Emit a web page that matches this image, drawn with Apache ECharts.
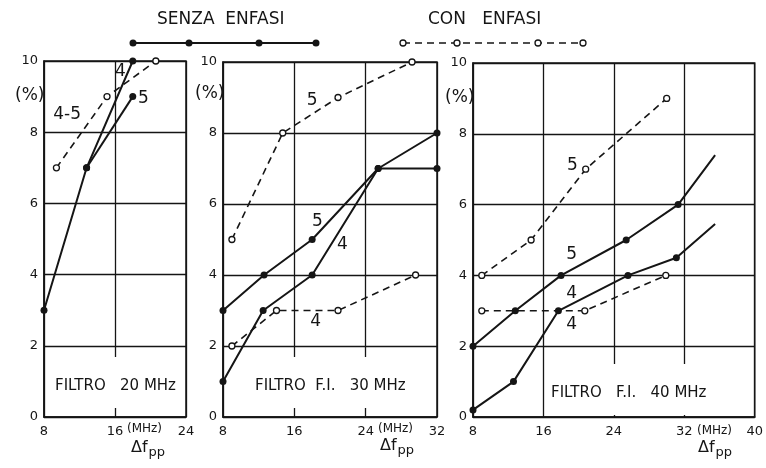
<!DOCTYPE html>
<html>
<head>
<meta charset="utf-8">
<script src="https://cdn.jsdelivr.net/npm/echarts@6/dist/echarts.min.js"></script>
<style>
  html, body { margin: 0; background: #fff; }
  #chart { width: 766px; height: 468px; }
</style>
</head>
<body>
<div id="chart"></div>
<script>
// distortion (%) vs peak-to-peak deviation (MHz), three IF filters
// [MHz, %]

// filtro 20 MHz
const p1Senza4 = [[8, 3], [12.8, 7], [18, 10]];
const p1Senza5 = [[12.8, 7], [18, 9]];
const p1Con45 = [[9.4, 7], [15.1, 9], [20.6, 10]];

// filtro F.I. 30 MHz
const p2Senza5 = [[8, 3], [12.6, 4], [18, 5], [25.4, 7], [32, 8]];
const p2Senza4 = [[8, 1], [12.5, 3], [18, 4], [25.4, 7], [32, 7]];
const p2Con5 = [[9, 5], [14.7, 8], [20.9, 9], [29.2, 10]];
const p2Con4 = [[9, 2], [14, 3], [20.9, 3], [29.6, 4]];

// filtro F.I. 40 MHz (last point of the solid curves has no marker)
const p3Senza5 = [[8, 2], [12.8, 3], [18, 4], [25.4, 5], [31.3, 6], [35.5, 7.4]];
const p3Senza4 = [[8, 0.2], [12.6, 1], [17.7, 3], [25.6, 4], [31.1, 4.5], [35.5, 5.45]];
const p3Con5 = [[9, 4], [14.6, 5], [20.8, 7], [30, 9]];
const p3Con4 = [[9, 3], [20.7, 3], [29.9, 4]];

const xRanges = [[8, 24], [8, 32], [8, 40]];
const yTicks = [0, 2, 4, 6, 8, 10];
const panelTitles = ['FILTRO   20 MHz', 'FILTRO  F.I.   30 MHz', 'FILTRO   F.I.   40 MHz'];
const legendNames = ['SENZA  ENFASI', 'CON   ENFASI'];

// curve names written next to the lines: [panel, text, MHz, %]
const curveNames = [
  [0, '4', 16.6, 9.7], [0, '5', 19.2, 8.95], [0, '4-5', 10.6, 8.5],
  [1, '5', 18, 8.9], [1, '5', 18.6, 5.5], [1, '4', 21.4, 4.85], [1, '4', 18.4, 2.7],
  [2, '5', 19.3, 7.1], [2, '5', 19.2, 4.6], [2, '4', 19.2, 3.5], [2, '4', 19.2, 2.6]
];

const FONT = "'DejaVu Sans', 'Liberation Sans', sans-serif";
const INK = '#151515';

const grids = [
  { left: 44, top: 61, width: 142, height: 356 },
  { left: 223, top: 62, width: 214, height: 355 },
  { left: 473, top: 63, width: 285, height: 354 }
];

function senza(g, data, openEnd) {
  return {
    type: 'line', xAxisIndex: g, yAxisIndex: g, clip: false, z: 3,
    data: data.map((p, i) => (openEnd && i === data.length - 1) ? { value: p, symbol: 'none' } : p),
    symbol: 'circle', symbolSize: 7,
    itemStyle: { color: INK },
    lineStyle: { color: INK, width: 2 }
  };
}

function con(g, data) {
  return {
    type: 'line', xAxisIndex: g, yAxisIndex: g, clip: false, z: 3,
    data: data,
    symbol: 'circle', symbolSize: 6,
    itemStyle: { color: '#fff', borderColor: INK, borderWidth: 1.3 },
    lineStyle: { color: INK, width: 1.6, type: [7, 5] }
  };
}

const chart = echarts.init(document.getElementById('chart'), null, { renderer: 'canvas' });

const option = {
  animation: false,
  backgroundColor: '#fff',
  textStyle: { fontFamily: FONT, color: INK },
  grid: grids.map(g => Object.assign({ show: true, borderColor: INK, borderWidth: 1.5, backgroundColor: 'transparent' }, g)),
  xAxis: xRanges.map((r, i) => ({
    type: 'value', gridIndex: i, min: r[0], max: r[1], interval: 8,
    axisLine: { show: true, lineStyle: { color: INK, width: 1.5 } },
    axisTick: { show: false },
    splitLine: { show: true, lineStyle: { color: INK, width: 1.3 } },
    axisLabel: { color: INK, fontSize: 13, margin: 8, fontFamily: FONT }
  })),
  yAxis: grids.map((g, i) => ({
    type: 'value', gridIndex: i, min: yTicks[0], max: yTicks[yTicks.length - 1], interval: 2,
    axisLine: { show: true, lineStyle: { color: INK, width: 1.5 } },
    axisTick: { show: false },
    splitLine: { show: true, lineStyle: { color: INK, width: 1.3 } },
    axisLabel: { color: INK, fontSize: 13, margin: 6, fontFamily: FONT }
  })),
  series: [
    senza(0, p1Senza4), senza(0, p1Senza5), con(0, p1Con45),
    senza(1, p2Senza5), senza(1, p2Senza4), con(1, p2Con5), con(1, p2Con4),
    senza(2, p3Senza5, true), senza(2, p3Senza4, true), con(2, p3Con5), con(2, p3Con4)
  ]
};

chart.setOption(option);

// annotations
const gfx = [];

// legend
gfx.push({ type: 'text', left: 157, top: 11, z: 10,
  style: { text: legendNames[0], fontSize: 17, fontFamily: FONT, fill: INK } });
gfx.push({ type: 'polyline', z: 10, shape: { points: [[133, 43], [316, 43]] },
  style: { stroke: INK, lineWidth: 2 } });
[133, 189, 259, 316].forEach(x => gfx.push({ type: 'circle', z: 11,
  shape: { cx: x, cy: 43, r: 3.5 }, style: { fill: INK } }));

gfx.push({ type: 'text', left: 428, top: 11, z: 10,
  style: { text: legendNames[1], fontSize: 17, fontFamily: FONT, fill: INK } });
gfx.push({ type: 'polyline', z: 10, shape: { points: [[403, 43], [583, 43]] },
  style: { stroke: INK, lineWidth: 1.5, lineDash: [7, 5] } });
[403, 457, 538, 583].forEach(x => gfx.push({ type: 'circle', z: 11,
  shape: { cx: x, cy: 43, r: 3 }, style: { fill: '#fff', stroke: INK, lineWidth: 1.3 } }));

// (%) and axis unit labels
const pctPos = [[15, 87], [195, 85], [445, 89]];
pctPos.forEach(p => gfx.push({ type: 'text', left: p[0], top: p[1], z: 10,
  style: { text: '(%)', fontSize: 17, fontFamily: FONT, fill: INK } }));

const unitPos = [[127, 423], [378, 423], [697, 425]];
unitPos.forEach(p => gfx.push({ type: 'text', left: p[0], top: p[1], z: 10,
  style: { text: '(MHz)', fontSize: 12, fontFamily: FONT, fill: INK } }));

const dfPos = [[131, 440], [380, 438], [698, 440]];
dfPos.forEach(p => gfx.push({ type: 'text', left: p[0], top: p[1], z: 10,
  style: {
    text: 'Δf{s|pp}', fontSize: 16, fontFamily: FONT, fill: INK,
    rich: { s: { fontSize: 13, fontFamily: FONT, fill: INK, padding: [10, 0, 0, 1] } }
  } }));

// panel titles on white boxes that cut the grid
const titlePos = [[52, 357], [252, 357], [548, 364]];
titlePos.forEach((p, i) => gfx.push({ type: 'text', left: p[0], top: p[1], z: 8,
  style: {
    text: panelTitles[i], fontSize: 15, fontFamily: FONT, fill: INK,
    backgroundColor: '#fff', padding: [22, 3, 14, 3]
  } }));

// curve names
curveNames.forEach(c => {
  const px = chart.convertToPixel({ xAxisIndex: c[0], yAxisIndex: c[0] }, [c[2], c[3]]);
  gfx.push({ type: 'text', x: px[0], y: px[1], z: 10,
    style: { text: c[1], fontSize: 17, fontFamily: FONT, fill: INK, align: 'center', verticalAlign: 'middle' } });
});

chart.setOption({ graphic: gfx });
</script>
</body>
</html>
